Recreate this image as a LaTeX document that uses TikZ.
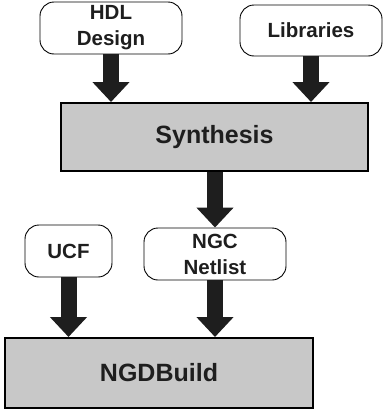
\documentclass[tikz,border=0pt]{standalone}
\usepackage{fontspec}
\setmainfont{Liberation Sans}
\usetikzlibrary{arrows.meta}

\definecolor{toolgray}{RGB}{200,200,200}
\definecolor{labelink}{RGB}{30,30,30}

\tikzstyle{srcbox} = [draw,line width=0.9pt,rounded corners=14pt,fill=white,
	inner sep=0pt,align=center,text=labelink,
	font=\fontsize{20.5}{26}\selectfont\bfseries]
\tikzstyle{toolbox} = [draw,line width=2pt,fill=toolgray,inner sep=0pt,text=labelink,
	font=\fontsize{25}{28}\selectfont\bfseries]
\tikzstyle{flowarrow} = [line width=16pt,labelink,-{Triangle[width=36pt,length=20pt]}]

\begin{document}
\begin{tikzpicture}[x=1pt,y=-1pt]
	\useasboundingbox (0,0) rectangle (383,410);

	\node[srcbox,minimum width=142pt,minimum height=52pt] (hdl) at (111,28) {HDL\\Design};
	\node[srcbox,minimum width=142pt,minimum height=51pt] (lib) at (311,30.5) {Libraries};
	\node[toolbox,minimum width=307pt,minimum height=68pt] (syn) at (214.5,137) {Synthesis};
	\node[srcbox,minimum width=87pt,minimum height=52pt] (ucf) at (68.5,251) {UCF};
	\node[srcbox,minimum width=142pt,minimum height=52pt] (ngc) at (215,254) {NGC\\Netlist};
	\node[toolbox,minimum width=308pt,minimum height=70pt] (ngd) at (159,373) {NGDBuild};

	\draw[flowarrow] (hdl.south) -- (hdl.south |- syn.north);
	\draw[flowarrow] (lib.south) -- (lib.south |- syn.north);
	\draw[flowarrow] (syn.south -| ngc.north) -- (ngc.north);
	\draw[flowarrow] (ucf.south) -- (ucf.south |- ngd.north);
	\draw[flowarrow] (ngc.south) -- (ngc.south |- ngd.north);
\end{tikzpicture}
\end{document}
